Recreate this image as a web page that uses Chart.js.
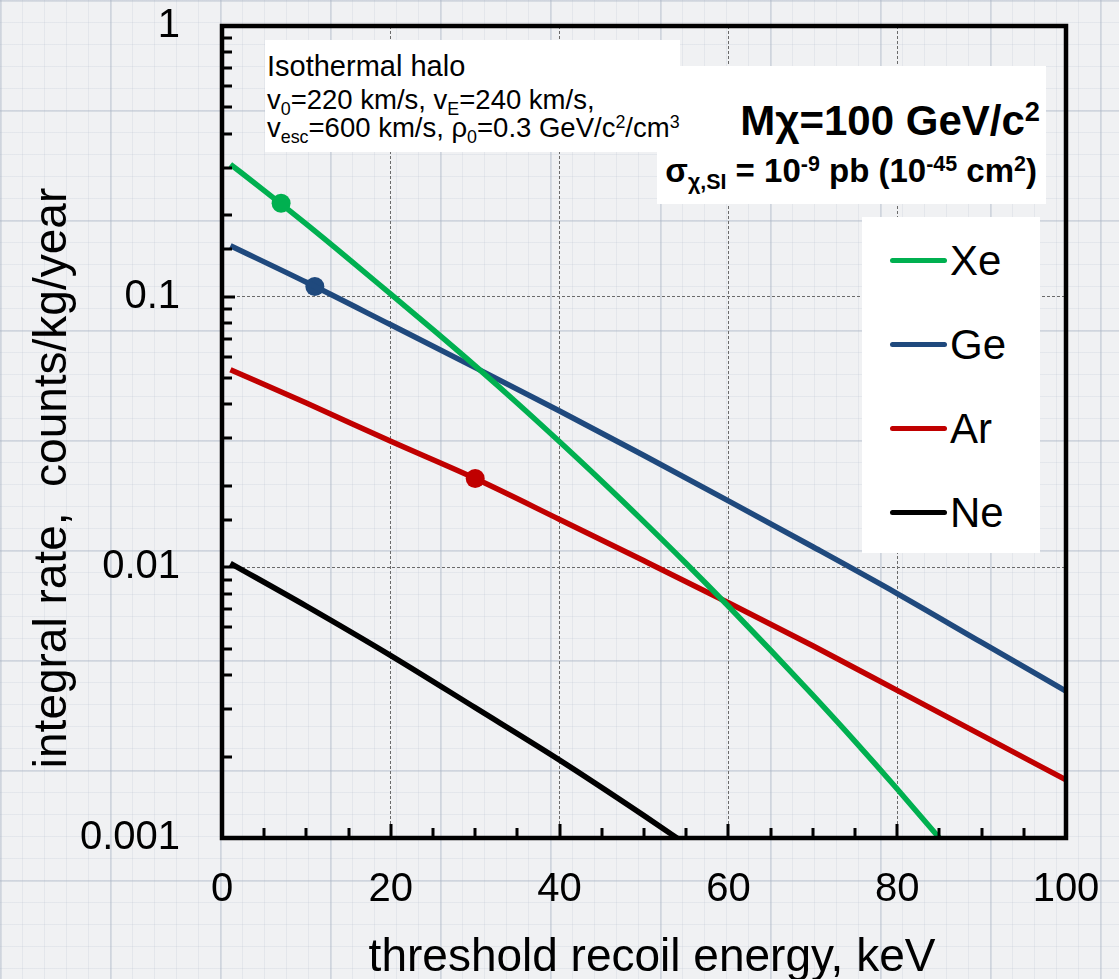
<!DOCTYPE html>
<html lang="en">
<head>
<meta charset="utf-8">
<title>Integral WIMP rate vs threshold</title>
<script src="https://cdn.jsdelivr.net/npm/chart.js@4.4.1/dist/chart.umd.min.js"></script>
<style>
  html, body { margin: 0; padding: 0; }
  body {
    width: 1119px; height: 979px; overflow: hidden; position: relative;
    font-family: "Liberation Sans", Arial, sans-serif; color: #000;
    background-color: #f0f1f3;
    background-image:
      linear-gradient(rgba(170,180,196,0.35) 2px, transparent 2px),
      linear-gradient(90deg, rgba(170,180,196,0.35) 2px, transparent 2px),
      linear-gradient(rgba(185,193,206,0.22) 1px, transparent 1px),
      linear-gradient(90deg, rgba(185,193,206,0.22) 1px, transparent 1px);
    background-size: 110px 110px, 110px 110px, 22px 22px, 22px 22px;
  }
  #holder { position: absolute; left: 0; top: 0; width: 1119px; height: 979px; }
  .box { position: absolute; background: #fff; }
  .ln { position: absolute; white-space: nowrap; line-height: 1; }
  sub, sup { font-size: 65%; line-height: 0; position: relative; vertical-align: baseline; }
  sub { top: 0.32em; }
  sup { top: -0.5em; }
  .swatch { position: absolute; height: 5px; width: 57px; border-radius: 3px; }
</style>
</head>
<body>
<div id="holder"><canvas id="rateChart"></canvas></div>

<!-- WIMP mass / cross section box -->
<div class="box" style="left:657px;top:66px;width:389px;height:138px;">
  <div class="ln" style="right:6px;top:34px;font-size:42px;font-weight:bold;">M&chi;=100 GeV/c<sup>2</sup></div>
  <div class="ln" style="right:9px;top:88px;font-size:33px;font-weight:bold;">&sigma;<sub>&chi;,SI</sub> = 10<sup>-9</sup> pb (10<sup>-45</sup> cm<sup>2</sup>)</div>
</div>

<!-- halo model box -->
<div class="box" style="left:265px;top:40px;width:415px;height:112px;">
  <div class="ln" style="left:2px;top:12px;font-size:29px;">Isothermal halo</div>
  <div class="ln" style="left:2px;top:46px;font-size:27.5px;">v<sub>0</sub>=220 km/s, v<sub>E</sub>=240 km/s,</div>
  <div class="ln" style="left:2px;top:74px;font-size:27.5px;">v<sub>esc</sub>=600 km/s, &rho;<sub>0</sub>=0.3 GeV/c<sup>2</sup>/cm<sup>3</sup></div>
</div>

<!-- legend -->
<div class="box" id="legendBox" style="left:862px;top:217px;width:178px;height:336px;"></div>

<script>
// energies in keV, rates in counts/kg/year
const xeEnergy = [1, 5, 10, 15, 20, 25, 30, 35, 40, 45, 50, 55, 60, 65, 70, 75, 80, 85, 86];
const xeRate   = [0.3083, 0.2466, 0.1854, 0.1380, 0.1021, 0.0755, 0.0555, 0.0404, 0.0291, 0.0208,
                  0.01472, 0.01033, 0.00718, 0.00494, 0.00337, 0.002275, 0.001517, 0.00100, 0.000918];

const geEnergy = [1, 10, 20, 30, 40, 50, 60, 70, 80, 90, 100];
const geRate   = [0.1542, 0.1130, 0.0787, 0.0547, 0.0378, 0.0259, 0.0176, 0.01191, 0.00800, 0.00528, 0.00349];

const arEnergy = [1, 10, 20, 30, 40, 50, 60, 70, 80, 90, 100];
const arRate   = [0.0537, 0.0405, 0.0292, 0.02128, 0.01503, 0.01057, 0.0074, 0.00513, 0.00351, 0.0024, 0.00164];

const neEnergy = [1, 10, 20, 30, 40, 50, 55];
const neRate   = [0.01035, 0.00719, 0.00472, 0.00303, 0.00194, 0.00121, 0.000948];

// dots marked on the curves
const markerEnergy = [7, 11, 30];
const markerRate   = [0.2213, 0.1091, 0.0213];

const elements = ["Xe", "Ge", "Ar", "Ne"];
const colors   = ["#00b050", "#1f497d", "#c00000", "#000000"];

const yTickValues = [0.001, 0.01, 0.1, 1];
const yTickLabels = ["0.001", "0.01", "0.1", "1"];
const xTitle = "threshold recoil energy, keV";
const yTitle = "integral rate,  counts/kg/year";

const family = '"Liberation Sans", Arial, sans-serif';

function pts(xs, ys) {
  return xs.map((x, i) => ({ x: x, y: ys[i] }));
}

function isDecade(v) {
  const l = Math.log10(v);
  return Math.abs(l - Math.round(l)) < 1e-6;
}

// legend built from the element list
const legendBox = document.getElementById("legendBox");
elements.forEach((el, i) => {
  const cy = 43 + i * 84;
  const sw = document.createElement("div");
  sw.className = "swatch";
  sw.style.left = "28px";
  sw.style.top = (cy - 2.5) + "px";
  sw.style.background = colors[i];
  legendBox.appendChild(sw);
  const tx = document.createElement("div");
  tx.className = "ln";
  tx.style.left = "88px";
  tx.style.top = (cy + 15 - 35.5) + "px";
  tx.style.fontSize = "42px";
  tx.textContent = el;
  legendBox.appendChild(tx);
});

// frame, inward ticks and the two axis titles
const frameAndTicks = {
  id: "frameAndTicks",
  afterDraw(chart) {
    const { ctx, chartArea: a, scales: { x, y } } = chart;
    ctx.save();
    ctx.strokeStyle = "#000";
    ctx.lineWidth = 3;
    ctx.beginPath();
    y.ticks.forEach(t => {
      const py = Math.round(y.getPixelForValue(t.value));
      const len = isDecade(t.value) ? 13 : 10;
      ctx.moveTo(a.left, py);
      ctx.lineTo(a.left + len, py);
    });
    x.ticks.forEach(t => {
      const px = Math.round(x.getPixelForValue(t.value));
      const len = t.value % 20 === 0 ? 14 : 10;
      ctx.moveTo(px, a.bottom);
      ctx.lineTo(px, a.bottom - len);
    });
    ctx.stroke();
    ctx.lineWidth = 4.5;
    ctx.strokeRect(a.left, a.top, a.right - a.left, a.bottom - a.top);

    ctx.font = "46px " + family;
    ctx.fillStyle = "#000";
    ctx.textAlign = "center";
    ctx.textBaseline = "alphabetic";
    ctx.fillText(xTitle, 652, 971);

    ctx.translate(53, 478);
    ctx.rotate(-Math.PI / 2);
    ctx.textBaseline = "middle";
    ctx.fillText(yTitle, 0, 0);
    ctx.restore();
  }
};

const curveSets = [
  [xeEnergy, xeRate],
  [geEnergy, geRate],
  [arEnergy, arRate],
  [neEnergy, neRate]
];

const datasets = curveSets.map((c, i) => ({
  label: elements[i],
  data: pts(c[0], c[1]),
  borderColor: colors[i],
  backgroundColor: colors[i],
  borderWidth: 5.5,
  pointRadius: 0,
  cubicInterpolationMode: "monotone",
  fill: false
}));

markerEnergy.forEach((e, i) => {
  datasets.push({
    type: "scatter",
    label: elements[i] + " marker",
    data: [{ x: e, y: markerRate[i] }],
    pointRadius: 9.5,
    pointBorderWidth: 0,
    backgroundColor: colors[i],
    borderColor: colors[i]
  });
});

new Chart(document.getElementById("rateChart"), {
  type: "line",
  data: { datasets: datasets },
  options: {
    responsive: true,
    maintainAspectRatio: false,
    animation: false,
    layout: { padding: { top: 26, right: 53, left: 0, bottom: 0 } },
    plugins: { legend: { display: false }, tooltip: { enabled: false } },
    scales: {
      x: {
        type: "linear",
        min: 0,
        max: 100,
        afterFit: s => {
          s.height = 141;
          s.paddingLeft = 0;
          s.paddingRight = 0;
        },
        ticks: {
          stepSize: 5,
          maxTicksLimit: 21,
          autoSkip: false,
          maxRotation: 0,
          padding: 28,
          color: "#000",
          font: { size: 40, family: family },
          callback: v => (v % 20 === 0 ? String(v) : "")
        },
        grid: {
          drawTicks: false,
          lineWidth: 1,
          color: c => (c.tick && c.tick.value % 20 === 0 && c.tick.value > 0 && c.tick.value < 100) ? "#6a6a6a" : "rgba(0,0,0,0)"
        },
        border: { display: false, dash: [3, 2] }
      },
      y: {
        type: "logarithmic",
        min: 0.001,
        max: 1,
        afterFit: s => {
          s.width = 222;
          s.paddingTop = 0;
          s.paddingBottom = 0;
        },
        ticks: {
          autoSkip: false,
          padding: 42,
          color: "#000",
          font: { size: 40, family: family },
          callback: v => {
            const i = yTickValues.findIndex(t => Math.abs(t - v) < v * 1e-6);
            return i >= 0 ? yTickLabels[i] : "";
          }
        },
        grid: {
          drawTicks: false,
          lineWidth: 1,
          color: c => (c.tick && isDecade(c.tick.value) && c.tick.value > 0.0011 && c.tick.value < 0.9) ? "#6a6a6a" : "rgba(0,0,0,0)"
        },
        border: { display: false, dash: [3, 2] }
      }
    }
  },
  plugins: [frameAndTicks]
});
</script>
</body>
</html>
